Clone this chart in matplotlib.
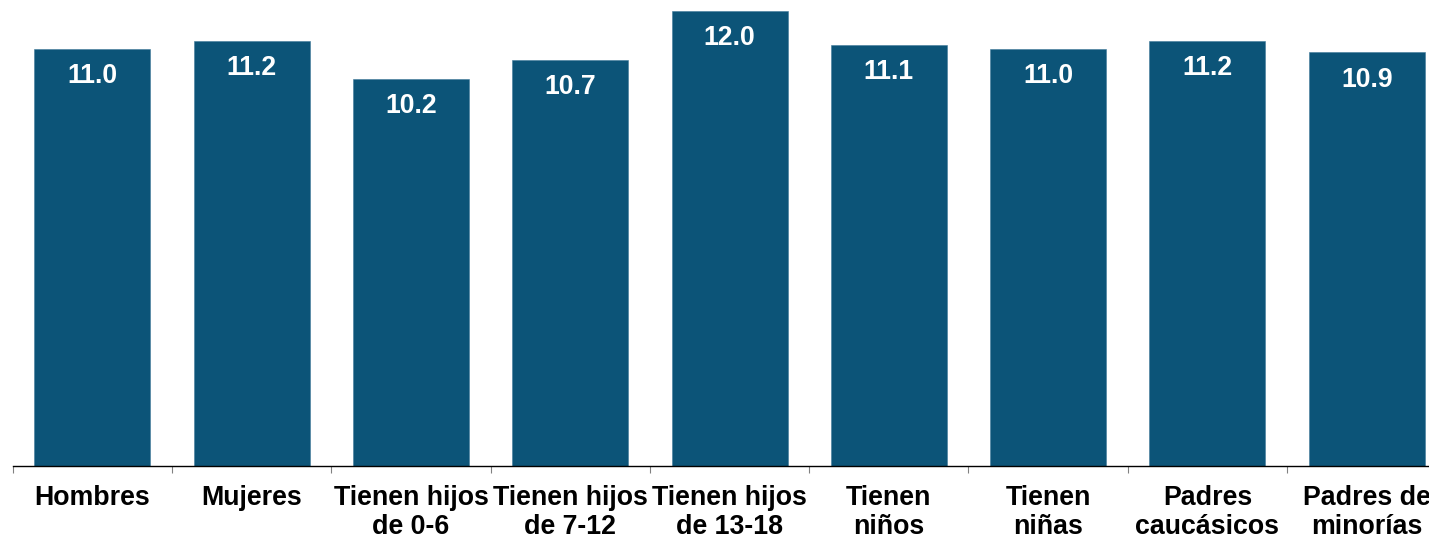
import matplotlib

matplotlib.use("Agg")
import matplotlib.pyplot as plt
import numpy as np

categories = [
    "Hombres",
    "Mujeres",
    "Tienen hijos\nde 0-6",
    "Tienen hijos\nde 7-12",
    "Tienen hijos\nde 13-18",
    "Tienen\nniños",
    "Tienen\nniñas",
    "Padres\ncaucásicos",
    "Padres de\nminorías",
]
values = [11.0, 11.2, 10.2, 10.7, 12.0, 11.1, 11.0, 11.2, 10.9]

BAR_COLOR = "#0C5478"

plt.rcParams["font.family"] = ["Liberation Sans", "DejaVu Sans"]

fig = plt.figure(figsize=(14.29, 5.41), dpi=100)
# axes runs slightly past the right edge, like the original
ax = fig.add_axes([12.7 / 1429, 75 / 541, (9 * 159.3) / 1429, 466 / 541])

x = np.arange(len(categories))
bars = ax.bar(x, values, width=0.728, color=BAR_COLOR, edgecolor="#3f7a9a", linewidth=0.4)

for xi, v in zip(x, values):
    ax.annotate(f"{v:.1f}", xy=(xi, v), xytext=(0, -19.8), textcoords="offset points",
                ha="center", va="center", color="white", fontsize=19.2, fontweight="bold")

ax.set_xlim(-0.5, len(categories) - 0.5)
ax.set_ylim(0, 466 / 37.95)

ax.set_xticks(x)
ax.set_xticklabels(categories, fontsize=19.3, fontweight="bold", color="black", linespacing=1.18)
ax.tick_params(axis="x", which="major", length=0, pad=13.5)
ax.set_xticks(np.arange(-0.5, len(categories)), minor=True)
ax.tick_params(axis="x", which="minor", length=5, width=0.8, color="#808080", direction="out")

ax.set_yticks([])
for side in ["top", "right", "left"]:
    ax.spines[side].set_visible(False)
ax.spines["bottom"].set_color("black")
ax.spines["bottom"].set_linewidth(1.0)

fig.savefig("out.png", dpi=100)
